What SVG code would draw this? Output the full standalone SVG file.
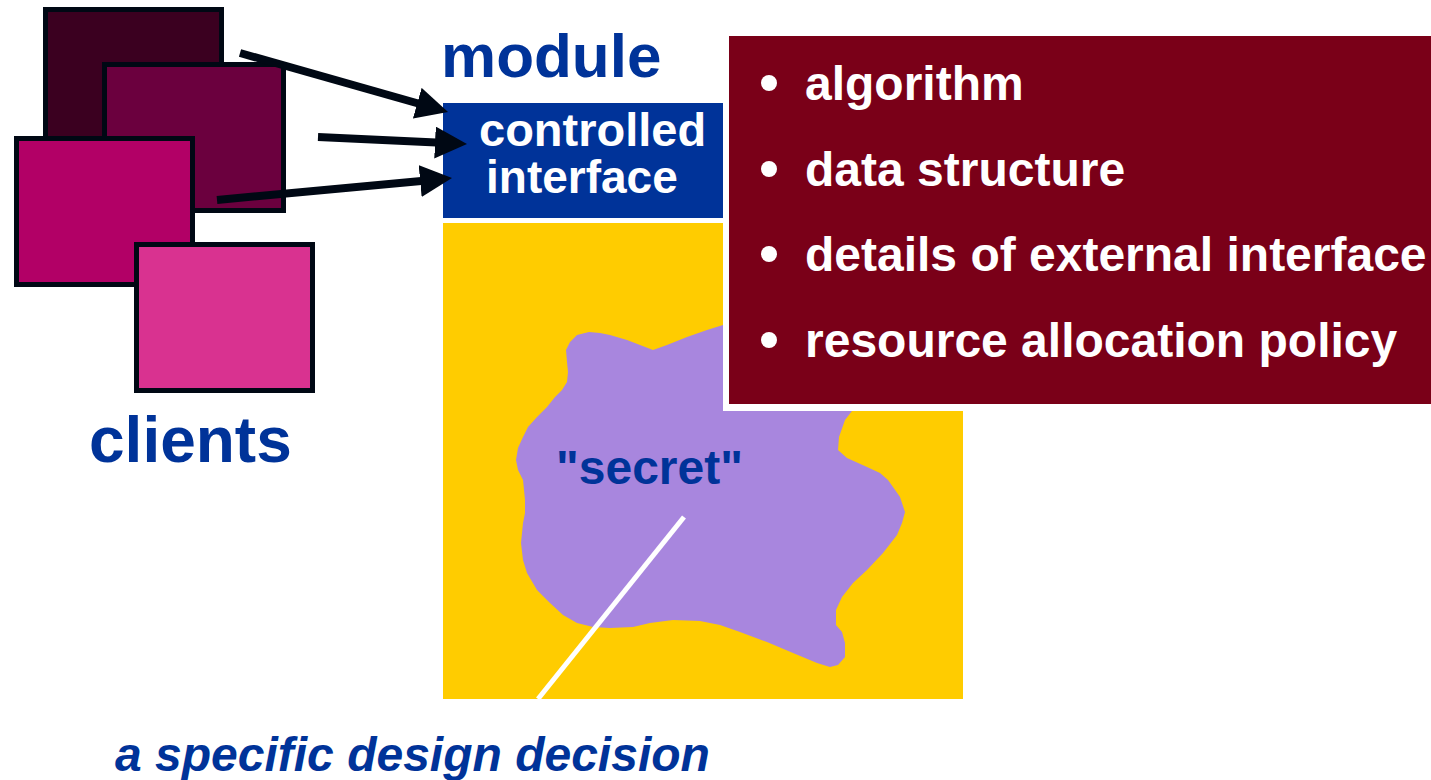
<svg xmlns="http://www.w3.org/2000/svg" width="1431" height="780" viewBox="0 0 1431 780">
<style>
.client{stroke:#000814;stroke-width:5}
.blue{fill:#003399;font-family:"Liberation Sans",Arial,sans-serif;font-weight:bold}
.white{fill:#ffffff;font-family:"Liberation Sans",Arial,sans-serif;font-weight:bold}
.arrow{stroke:#000814;stroke-width:8;fill:none;marker-end:url(#ah)}
</style>
<defs>
<marker id="ah" markerUnits="userSpaceOnUse" markerWidth="32" markerHeight="32" refX="12" refY="16" orient="auto">
<path d="M0,0 L32,16 L0,32 Z" fill="#000814"/>
</marker>
</defs>
<rect x="0" y="0" width="1431" height="780" fill="#ffffff"/>

<g id="clients">
<rect class="client" x="45.5" y="9.5" width="176" height="146" fill="#3b0020"/>
<rect class="client" x="104.5" y="64.5" width="179" height="146" fill="#6b003e"/>
<rect class="client" x="16.5" y="138.5" width="176" height="146" fill="#b20066"/>
<rect class="client" x="136.5" y="244.5" width="176" height="146" fill="#d93290"/>
<text class="blue" x="89" y="462" font-size="64">clients</text>
</g>

<g id="module">
<text class="blue" x="441" y="77" font-size="62">module</text>
<rect x="443" y="223" width="520" height="476" fill="#ffcc00"/>
</g>

<g id="secret">
<path fill="#a886de" d="M570,342 L577,335 L589,332 L600,333 L610,335 L627,340 L640,345 L653,350 L667,345 L687,337 L707,330 L723,325 L760,318 L820,330 L850,380 L853,405 L852,411 L845,420 L839,437 L838,450 L847,458 L867,467 L880,473 L888,480 L893,487 L900,497 L905,512 L902,523 L897,535 L883,553 L867,570 L853,583 L842,597 L836,610 L836,625 L842,632 L845,643 L845,657 L838,665 L830,667 L817,663 L793,653 L767,642 L740,632 L720,625 L700,621 L673,620 L650,623 L633,627 L610,628 L593,627 L577,623 L563,615 L550,603 L537,590 L527,573 L523,560 L521,543 L523,523 L525,513 L525,500 L523,480 L518,470 L516,460 L518,448 L523,437 L528,427 L537,417 L547,407 L555,397 L562,390 L567,382 L568,372 L567,362 L566,350 Z"/>
<text class="blue" x="556" y="484" font-size="48">"secret"</text>
</g>

<g id="interface">
<rect x="443" y="103" width="280" height="115" fill="#003399"/>
<text class="white" x="479" y="146" font-size="47">controlled</text>
<text class="white" x="486" y="193" font-size="46">interface</text>
</g>

<g id="details">
<rect x="723" y="30" width="720" height="381" fill="#ffffff"/>
<rect x="729" y="36" width="710" height="368" fill="#7a0018"/>
<circle cx="769" cy="83" r="8" fill="#ffffff"/>
<circle cx="769" cy="169" r="8" fill="#ffffff"/>
<circle cx="769" cy="254" r="8" fill="#ffffff"/>
<circle cx="769" cy="340" r="8" fill="#ffffff"/>
<text class="white" x="805" y="100" font-size="48">algorithm</text>
<text class="white" x="805" y="186" font-size="48">data structure</text>
<text class="white" x="805" y="271" font-size="48">details of external interface</text>
<text class="white" x="805" y="357" font-size="48">resource allocation policy</text>
</g>

<g id="caption">
<text class="blue" x="115" y="771" font-size="48" font-style="italic">a specific design decision</text>
</g>

<g id="connectors">
<line class="arrow" x1="240" y1="53" x2="428.8" y2="106.5"/>
<line class="arrow" x1="318" y1="137" x2="447" y2="143.1"/>
<line class="arrow" x1="217" y1="200" x2="432.1" y2="179.9"/>
<line x1="684" y1="517" x2="538" y2="699" stroke="#ffffff" stroke-width="5"/>
</g>
</svg>
